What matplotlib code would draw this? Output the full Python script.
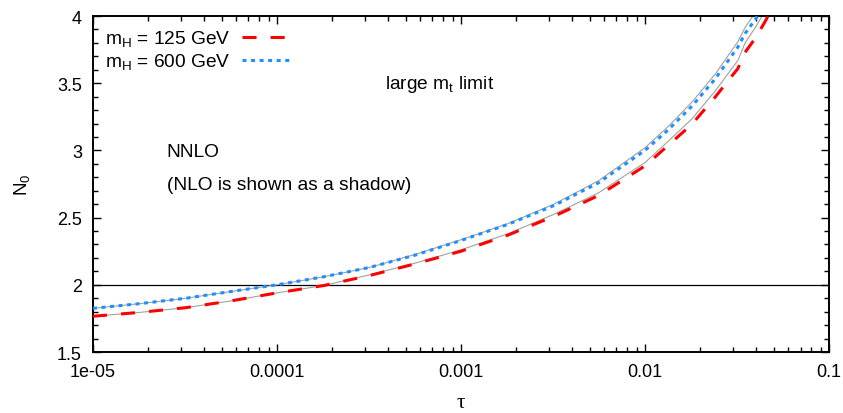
import numpy as np
import matplotlib
matplotlib.use("Agg")
import matplotlib.pyplot as plt
from matplotlib.ticker import LogLocator, MultipleLocator, FixedFormatter, FixedLocator

plt.rcParams['font.family'] = ['Liberation Sans', 'DejaVu Sans']
plt.rcParams['mathtext.fontset'] = 'custom'
plt.rcParams['mathtext.rm'] = 'Liberation Sans'
plt.rcParams['mathtext.it'] = 'Liberation Sans'

# tau grid (shared by all curves)
tau = [1e-5, 1.8e-5, 3.2e-5, 5.6e-5, 1e-4, 1.8e-4, 3.2e-4, 5.6e-4,
       1e-3, 1.8e-3, 3.2e-3, 5.6e-3, 1e-2, 1.33e-2, 1.8e-2, 2.4e-2,
       3.2e-2, 3.5e-2, 4e-2, 4.5e-2, 5e-2]

# NNLO
n0_125 = [1.766, 1.795, 1.83, 1.88, 1.94, 1.995, 2.07, 2.155, 2.25, 2.37,
          2.51, 2.665, 2.885, 3.035, 3.195, 3.395, 3.61, 3.73, 3.84, 3.96, 4.08]
n0_600 = [1.825, 1.86, 1.90, 1.95, 2.00, 2.06, 2.13, 2.22, 2.33, 2.45,
          2.59, 2.76, 3.00, 3.15, 3.33, 3.53, 3.77, 3.87, 3.98, 4.10, 4.22]

# NLO (drawn as grey shadow)
nlo_125 = [1.766, 1.795, 1.83, 1.88, 1.94, 1.995, 2.075, 2.16, 2.26, 2.38,
           2.525, 2.685, 2.91, 3.065, 3.235, 3.44, 3.67, 3.80, 3.92, 4.04, 4.17]
nlo_600 = [1.825, 1.86, 1.90, 1.95, 2.00, 2.06, 2.13, 2.225, 2.335, 2.455,
           2.60, 2.775, 3.02, 3.175, 3.36, 3.565, 3.81, 3.915, 4.03, 4.15, 4.28]

xticks = [1e-5, 1e-4, 1e-3, 1e-2, 1e-1]
xticklabels = ['1e-05', '0.0001', '0.001', '0.01', '0.1']

fig = plt.figure(figsize=(8.43, 4.14), dpi=100)
ax = fig.add_axes([0.1103, 0.1473, 0.8731, 0.8116])

ax.axhline(2.0, color='black', lw=0.9, zorder=1)

ax.plot(tau, nlo_125, color='#a0a0a0', lw=0.8, zorder=2)
ax.plot(tau, nlo_600, color='#a0a0a0', lw=0.8, zorder=2)

ax.plot(tau, n0_125, color='#ff0000', lw=2.2, dashes=(4.6, 4.6),
        dash_capstyle='butt', label=r'm$_\mathrm{H}$ = 125 GeV', zorder=3)
ax.plot(tau, n0_600, color='#1e8fff', lw=2.2, dashes=(1.3, 1.5),
        dash_capstyle='butt', label=r'm$_\mathrm{H}$ = 600 GeV', zorder=3)

ax.set_xscale('log')
ax.set_xlim(1e-5, 0.1)
ax.set_ylim(1.5, 4.0)

ax.xaxis.set_major_locator(FixedLocator(xticks))
ax.xaxis.set_major_formatter(FixedFormatter(xticklabels))
ax.xaxis.set_minor_locator(LogLocator(base=10, subs=np.arange(2, 10)))
ax.yaxis.set_major_locator(MultipleLocator(0.5))
ax.yaxis.set_minor_locator(MultipleLocator(0.1))
ax.yaxis.set_major_formatter(plt.FuncFormatter(lambda v, p: f'{v:g}'))

ax.tick_params(which='both', direction='in', top=True, right=True,
               labelsize=13, width=1.0)
ax.tick_params(which='major', length=6, pad=8)
ax.tick_params(which='minor', length=3.5)
for s in ax.spines.values():
    s.set_linewidth(1.4)

ax.set_xlabel('τ', fontsize=15, family='Liberation Serif', labelpad=9)
ax.set_ylabel(r'N$_0$', fontsize=13.5, labelpad=18)

ax.legend(loc='upper left', frameon=False, markerfirst=False, fontsize=13.8,
          handlelength=2.5, handletextpad=0.6, labelspacing=0.15,
          borderaxespad=0.35, borderpad=0.3)

ax.text(0.397, 0.80, r'large m$_\mathrm{t}$ limit', transform=ax.transAxes,
        fontsize=13.8, ha='left', va='center')
ax.text(0.1, 0.598, 'NNLO', transform=ax.transAxes, fontsize=13.8,
        ha='left', va='center')
ax.text(0.1, 0.50, '(NLO is shown as a shadow)', transform=ax.transAxes,
        fontsize=13.8, ha='left', va='center')

fig.savefig('out.png', dpi=100)
